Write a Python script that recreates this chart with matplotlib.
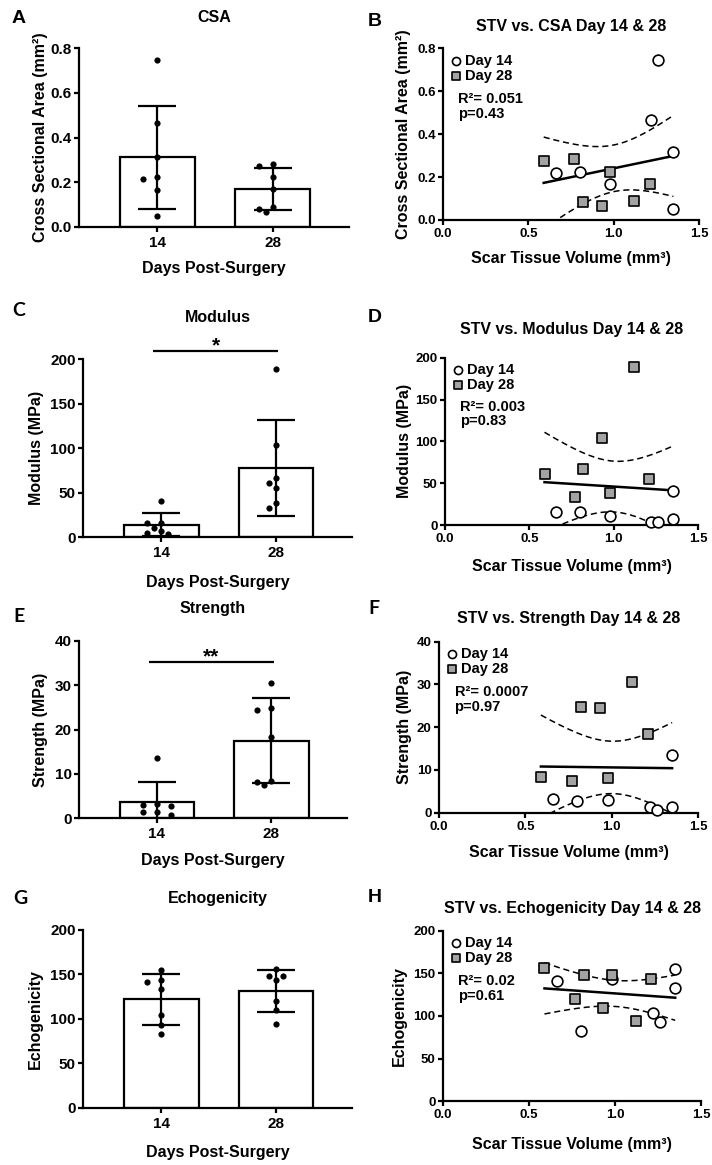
import numpy as np
import matplotlib
matplotlib.use('Agg')
import matplotlib.pyplot as plt
from matplotlib.ticker import FormatStrFormatter

# ---------------- data ----------------
days = ['14', '28']

stv_day14 = [0.66, 0.80, 0.98, 1.22, 1.26, 1.35, 1.35]
stv_day28 = [0.59, 0.77, 0.82, 0.93, 0.98, 1.12, 1.21]

csa_day14 = [0.217, 0.224, 0.166, 0.466, 0.746, 0.315, 0.051]
csa_day28 = [0.275, 0.283, 0.082, 0.067, 0.225, 0.090, 0.170]

modulus_day14 = [16.0, 16.0, 10.5, 4.0, 3.2, 6.8, 40.5]
modulus_day28 = [60.6, 33.0, 66.5, 103.6, 38.6, 188.4, 55.0]

strength_day14 = [3.2, 2.8, 3.0, 1.3, 0.7, 1.3, 13.6]
strength_day28 = [8.4, 7.5, 24.8, 24.5, 8.2, 30.6, 18.4]

echo_day14 = [141.4, 82.4, 143.0, 103.9, 92.6, 155.0, 133.2]
echo_day28 = [155.9, 119.5, 148.0, 109.8, 148.0, 94.0, 143.4]

r2_labels = ['R²= 0.051', 'R²= 0.003', 'R²= 0.0007', 'R²= 0.02']
p_labels = ['p=0.43', 'p=0.83', 'p=0.97', 'p=0.61']

T_CRIT = 2.1788  # two-sided 95% t, df = 12

# ---------------- style ----------------
plt.rcParams['font.family'] = ['Liberation Sans', 'DejaVu Sans']
plt.rcParams['font.weight'] = 'bold'
plt.rcParams['axes.labelweight'] = 'bold'
plt.rcParams['axes.titleweight'] = 'bold'

W, H = 712, 1165
DPI = 100
fig = plt.figure(figsize=(W / DPI, H / DPI), dpi=DPI)
fig.patch.set_facecolor('white')

LW = 1.6


def add_axes_px(l, r, t, b):
    return fig.add_axes([l / W, 1 - b / H, (r - l) / W, (b - t) / H])


def ftext(x, y, s, **kw):
    return fig.text(x / W, 1 - y / H, s, **kw)


def style_axes(ax, tick_fs):
    for side in ('top', 'right'):
        ax.spines[side].set_visible(False)
    for side in ('left', 'bottom'):
        ax.spines[side].set_linewidth(LW)
    ax.tick_params(direction='out', length=3.8, width=LW, labelsize=tick_fs)
    ax.tick_params(axis='y', pad=1.5)
    for lab in ax.get_xticklabels() + ax.get_yticklabels():
        lab.set_fontweight('bold')


def label_at(ax, xlabel, ylabel, l, r, t, b, xlab_y, ylab_x, fs):
    ax.set_xlabel(xlabel, fontsize=fs, va='center', ha='center')
    ax.xaxis.set_label_coords(0.5, -(xlab_y - b) / (b - t))
    ax.set_ylabel(ylabel, fontsize=fs, va='center', ha='center')
    ax.yaxis.set_label_coords(-(l - ylab_x) / (r - l), 0.5)


def swarm(ax, center, vals, step_px=7.0, min_px=7.5):
    vals = np.asarray(vals, float)
    pts = np.column_stack([np.full(len(vals), center), vals])
    ypx = ax.transData.transform(pts)[:, 1]
    xppu = ax.transData.transform([(1, 0)])[0, 0] - ax.transData.transform([(0, 0)])[0, 0]
    order = np.argsort(-vals, kind='stable')
    cands = [0]
    for j in range(1, 12):
        cands += [-j, j]
    offs = np.zeros(len(vals))
    placed = []
    for i in order:
        xo = 0.0
        for c in cands:
            xo = c * step_px
            if all(np.hypot(xo - px, ypx[i] - py) >= min_px for px, py in placed):
                break
        placed.append((xo, ypx[i]))
        offs[i] = xo / xppu
    return center + offs


def bar_panel(box, v14, v28, ylim, yticks, yfmt, ylabel, title, title_y,
              xlab_y, ylab_x, sig=None):
    l, r, t, b = box
    ax = add_axes_px(l, r, t, b)
    ax.set_xlim(-0.68, 1.66)
    ax.set_ylim(*ylim)
    groups = [np.asarray(v14, float), np.asarray(v28, float)]
    means = [g.mean() for g in groups]
    sds = [g.std(ddof=1) for g in groups]
    xs = np.arange(len(days))
    ax.bar(xs, means, width=0.65, color='white', edgecolor='black',
           linewidth=LW, zorder=2)
    ax.errorbar(xs, means, yerr=sds, fmt='none', ecolor='black',
                elinewidth=LW, capsize=14, capthick=LW, zorder=3)
    for xc, g in zip(xs, groups):
        xj = swarm(ax, xc, g)
        ax.scatter(xj, g, s=20, color='black', linewidths=0, zorder=4,
                   clip_on=False)
    ax.set_xticks(xs)
    ax.set_xticklabels(days)
    ax.set_yticks(yticks)
    ax.yaxis.set_major_formatter(FormatStrFormatter(yfmt))
    style_axes(ax, 11)
    ax.tick_params(axis='x', pad=3)
    label_at(ax, 'Days Post-Surgery', ylabel, l, r, t, b, xlab_y, ylab_x, 11.5)
    ftext((l + r) / 2, title_y, title, ha='center', va='center',
          fontsize=11.5, fontweight='bold')
    if sig is not None:
        ysig, stars = sig
        ax.plot([-0.07, 1.02], [ysig, ysig], color='black', lw=LW,
                clip_on=False, solid_capstyle='butt')
        ax.text(0.475, ysig, stars, ha='center', va='baseline', fontsize=15,
                fontweight='bold', clip_on=False)
    return ax


def scatter_panel(box, x14, y14, x28, y28, ylim, yticks, yfmt, ylabel, title,
                  title_y, xlab_y, ylab_x, r2, pval):
    l, r, t, b = box
    ax = add_axes_px(l, r, t, b)
    ax.set_xlim(0, 1.5)
    ax.set_ylim(*ylim)
    x = np.r_[x14, x28]
    y = np.r_[y14, y28]
    slope, icpt = np.polyfit(x, y, 1)
    n = len(x)
    resid = y - (icpt + slope * x)
    s = np.sqrt(np.sum(resid ** 2) / (n - 2))
    xbar = x.mean()
    sxx = np.sum((x - xbar) ** 2)
    xs = np.linspace(x.min(), x.max(), 200)
    yh = icpt + slope * xs
    half = T_CRIT * s * np.sqrt(1.0 / n + (xs - xbar) ** 2 / sxx)
    ax.plot(xs, yh, color='black', lw=LW + 0.2, zorder=3)
    for sign in (1, -1):
        ax.plot(xs, yh + sign * half, color='black', lw=1.1,
                dashes=(4, 2.5), zorder=3)
    ax.scatter(x14, y14, s=60, marker='o', facecolor='white',
               edgecolor='black', linewidths=1.2, zorder=5, clip_on=False,
               label='Day 14')
    ax.scatter(x28, y28, s=60, marker='s', facecolor='#a3a3a3',
               edgecolor='black', linewidths=1.2, zorder=5, clip_on=False,
               label='Day 28')
    leg = ax.legend(loc='upper left', bbox_to_anchor=(0.015, 0.985),
                    frameon=False, handletextpad=0.15, handlelength=0.9,
                    borderaxespad=0.0, borderpad=0.2, labelspacing=0.05,
                    markerscale=0.75, fontsize=10.5)
    for txt in leg.get_texts():
        txt.set_fontweight('bold')
    ax.text(0.06, 0.705, r2, transform=ax.transAxes, va='center',
            ha='left', fontsize=10.5, fontweight='bold')
    ax.text(0.06, 0.62, pval, transform=ax.transAxes, va='center',
            ha='left', fontsize=10.5, fontweight='bold')
    ax.set_xticks([0, 0.5, 1.0, 1.5])
    ax.xaxis.set_major_formatter(FormatStrFormatter('%.1f'))
    ax.set_yticks(yticks)
    ax.yaxis.set_major_formatter(FormatStrFormatter(yfmt))
    style_axes(ax, 9.5)
    ax.tick_params(axis='x', pad=2)
    label_at(ax, 'Scar Tissue Volume (mm³)', ylabel, l, r, t, b, xlab_y,
             ylab_x, 11.5)
    ftext((l + r) / 2, title_y, title, ha='center', va='center',
          fontsize=11.5, fontweight='bold')
    return ax


# ---------------- panels ----------------
bar_panel((79, 349, 48.3, 227), csa_day14, csa_day28, (0, 0.8),
          [0, 0.2, 0.4, 0.6, 0.8], '%.1f', 'Cross Sectional Area (mm²)',
          'CSA', 18, 269, 40)
scatter_panel((443, 699, 48.3, 220), stv_day14, csa_day14, stv_day28,
              csa_day28, (0, 0.8), [0, 0.2, 0.4, 0.6, 0.8], '%.1f',
              'Cross Sectional Area (mm²)', 'STV vs. CSA Day 14 & 28', 26,
              259, 403, r2_labels[0], p_labels[0])

bar_panel((83, 352, 359, 537), modulus_day14, modulus_day28, (0, 200),
          [0, 50, 100, 150, 200], '%d', 'Modulus (MPa)', 'Modulus', 317,
          582, 37, sig=(209, '*'))
scatter_panel((445, 698, 357.7, 525), stv_day14, modulus_day14, stv_day28,
              modulus_day28, (0, 200), [0, 50, 100, 150, 200], '%d',
              'Modulus (MPa)', 'STV vs. Modulus Day 14 & 28', 330, 567, 404,
              r2_labels[1], p_labels[1])

bar_panel((79, 347, 641, 818), strength_day14, strength_day28, (0, 40),
          [0, 10, 20, 30, 40], '%d', 'Strength (MPa)', 'Strength', 609,
          861, 40, sig=(35.25, '**'))
scatter_panel((439, 698, 641.7, 812.7), stv_day14, strength_day14, stv_day28,
              strength_day28, (0, 40), [0, 10, 20, 30, 40], '%d',
              'Strength (MPa)', 'STV vs. Strength Day 14 & 28', 619, 853, 405,
              r2_labels[2], p_labels[2])

bar_panel((83, 352, 929.7, 1107.7), echo_day14, echo_day28, (0, 200),
          [0, 50, 100, 150, 200], '%d', 'Echogenicity', 'Echogenicity', 898,
          1153, 35)
scatter_panel((443, 701, 930.7, 1101.3), stv_day14, echo_day14, stv_day28,
              echo_day28, (0, 200), [0, 50, 100, 150, 200], '%d',
              'Echogenicity', 'STV vs. Echogenicity Day 14 & 28', 908, 1144,
              399, r2_labels[3], p_labels[3])

# panel letters
arial_letters = [('A', 12, 18.5), ('B', 368, 21), ('D', 368, 318), ('H', 368, 898)]
lato_letters = [('C', 12, 311), ('E', 13, 616), ('F', 368, 608), ('G', 13, 898)]
for s, x, y in arial_letters:
    ftext(x, y, s, ha='left', va='center', fontsize=14, fontweight='bold')
for s, x, y in lato_letters:
    ftext(x, y, s, ha='left', va='center', fontsize=14, fontweight='bold',
          family=['Lato', 'DejaVu Sans'])

fig.savefig('out.png', dpi=DPI, facecolor='white')
